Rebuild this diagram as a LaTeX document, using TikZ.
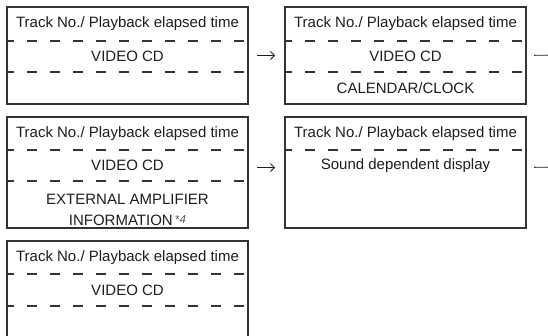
\documentclass[tikz,border=0pt]{standalone}
\usepackage{fontspec}
\setmainfont{Liberation Sans}
\usetikzlibrary{arrows.meta,calc}
\definecolor{panelline}{HTML}{333333}
\definecolor{paneltext}{HTML}{1E1E1E}

\tikzset{
  panel/.style={draw=panelline, line width=1.25pt, anchor=north west, inner sep=0pt, outer sep=0pt,
    minimum width=241pt},
  sep/.style={draw=panelline, line width=1.3pt, dash pattern=on 9.5pt off 13.5pt, dash phase=3pt},
  lbl/.style={text=paneltext, inner sep=0pt, align=center, font=\fontsize{15}{21}\selectfont},
  nextarrow/.style={draw=paneltext, line width=0.8pt, -{Straight Barb[length=4pt,width=8pt]}}
}

\begin{document}
\begin{tikzpicture}[x=1pt, y=-1pt]
  \clip (0,0) rectangle (548,335);
  \fill[white] (0,0) rectangle (548,335);

  % row 1
  \node[panel, minimum height=97pt] (p1) at (7,7) {};
  \node[panel, minimum height=97pt] (p2) at (285,7) {};
  \draw[sep] (p1.west |- 0,41) -- (p1.east |- 0,41);
  \draw[sep] (p1.west |- 0,72) -- (p1.east |- 0,72);
  \draw[sep] (p2.west |- 0,41) -- (p2.east |- 0,41);
  \draw[sep] (p2.west |- 0,72) -- (p2.east |- 0,72);
  \node[lbl] (p1track) at (127.5,24) {Track No./ Playback elapsed time};
  \node[lbl] (p1disc) at (127.5,56.5) {VIDEO CD};
  \node[lbl] (p2track) at (405.5,24) {Track No./ Playback elapsed time};
  \node[lbl] (p2disc) at (405.5,56.5) {VIDEO CD};
  \node[lbl] (p2clock) at (405.5,88) {CALENDAR/CLOCK};
  \coordinate (p2out) at (556,55);
  \draw[nextarrow, shorten <=9pt, shorten >=10pt] (p1.east) -- (p2.west);
  \draw[nextarrow, shorten <=8pt] (p2.east) -- (p2out);

  % row 2
  \node[panel, minimum height=111pt] (p3) at (7,117) {};
  \node[panel, minimum height=111pt] (p4) at (285,117) {};
  \draw[sep] (p3.west |- 0,150) -- (p3.east |- 0,150);
  \draw[sep] (p3.west |- 0,181) -- (p3.east |- 0,181);
  \draw[sep] (p4.west |- 0,150) -- (p4.east |- 0,150);
  \node[lbl] (p3track) at (127.5,133.5) {Track No./ Playback elapsed time};
  \node[lbl] (p3disc) at (127.5,165.5) {VIDEO CD};
  \node[lbl] (p3amp) at (127.5,210) {EXTERNAL AMPLIFIER\\INFORMATION\,{\color{black!65}\raisebox{2.5pt}{\fontsize{11.5}{11.5}\selectfont*\textit{4}}}};
  \node[lbl] (p4track) at (405.5,133.5) {Track No./ Playback elapsed time};
  \node[lbl] (p4sound) at (405.5,165.5) {Sound dependent display};
  \coordinate (p4out) at (556,167);
  \draw[nextarrow, shorten <=9pt, shorten >=10pt] ([yshift=5pt]p3.east) -- ([yshift=5pt]p4.west);
  \draw[nextarrow, shorten <=8pt] ([yshift=5pt]p4.east) -- (p4out);

  % row 3
  \node[panel, minimum height=111pt] (p5) at (7,241) {};
  \draw[sep] (p5.west |- 0,274) -- (p5.east |- 0,274);
  \draw[sep] (p5.west |- 0,306) -- (p5.east |- 0,306);
  \node[lbl] (p5track) at (127.5,257.5) {Track No./ Playback elapsed time};
  \node[lbl] (p5disc) at (127.5,290) {VIDEO CD};
\end{tikzpicture}
\end{document}
